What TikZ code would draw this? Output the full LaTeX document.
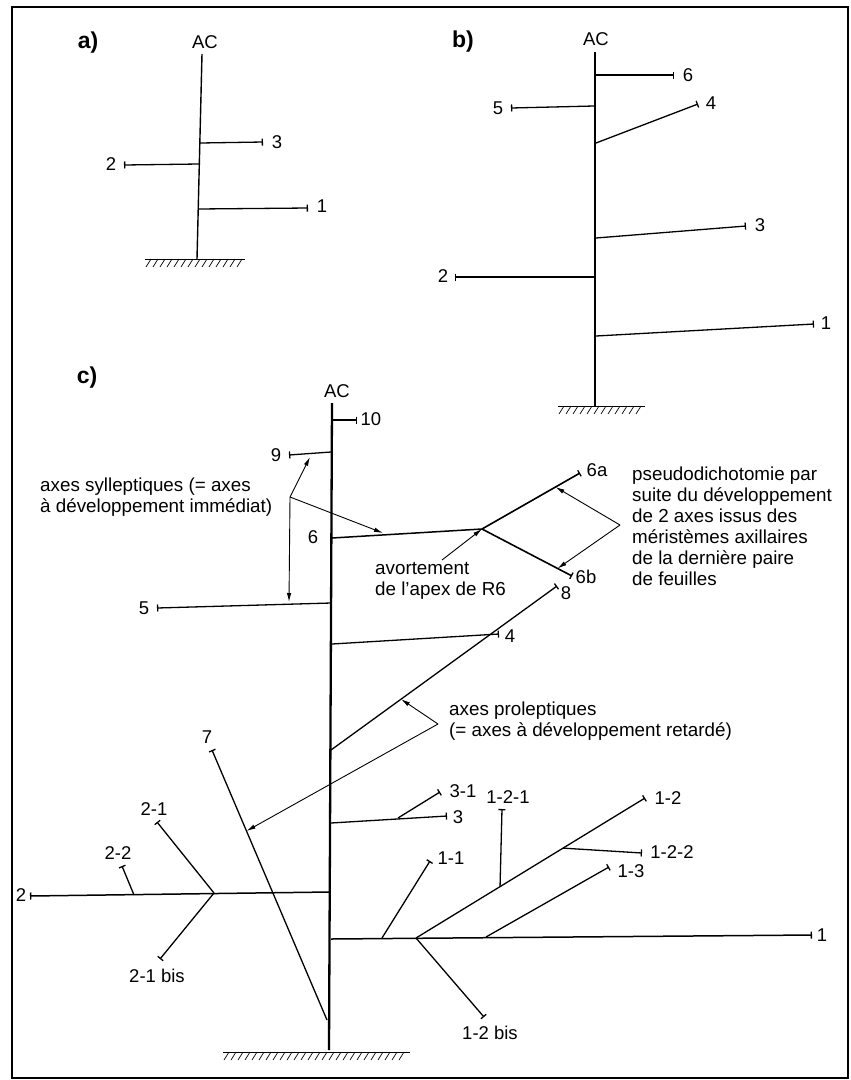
\documentclass[tikz,border=0pt]{standalone}
\usepackage{fontspec}
\setmainfont{Liberation Sans}
\usetikzlibrary{arrows.meta,calc}

% ground line with short slanted hatching: x start, x end, y
\newcommand{\soil}[3]{%
  \draw[line width=0.7pt] (#1,#3) -- (#2,#3);
  \pgfmathtruncatemacro{\nh}{(#2-#1)/7}
  \foreach \hk in {1,...,\nh}
    \draw[line width=0.7pt] (#1+7*\hk-1,#3) -- ++(-5,8);
}

\begin{document}
\begin{tikzpicture}[
  x=1pt, y=-1pt,
  lbl/.style={font=\fontsize{18.5}{22}\selectfont, inner sep=0pt},
  panel/.style={font=\fontsize{23}{27}\selectfont\bfseries, inner sep=0pt},
  note/.style={font=\fontsize{18.8}{21}\selectfont, align=left,
    inner sep=0pt, anchor=north west},
  stem/.style={line width=2pt},
  shoot/.style={line width=1.3pt, -{Bar[width=7pt,line width=1.3pt]}},
  pointer/.style={line width=0.9pt, -{Latex[length=9pt,width=4.5pt]}}
]
% 851 by 1080 canvas with the thin outer frame
\path[use as bounding box] (0,0) rectangle (851,1080);
\draw[line width=1.2pt] (12,7) rectangle (848,1078);

% a) three shoots on a short axis
\node[panel] (pa) at (88,43) {a)};
\node[lbl] (acA) at (205,42) {AC};
\coordinate (aTop) at (202,54);
\coordinate (aFoot) at (197,259);
\draw[line width=1.4pt] (aTop) -- (aFoot);
\coordinate (a1) at (198,209); \coordinate (a1e) at (308,208);
\coordinate (a2) at (199,164); \coordinate (a2e) at (124,165);
\coordinate (a3) at (200,143); \coordinate (a3e) at (263,142);
\foreach \br in {1,2,3} \draw[shoot] (a\br) -- (a\br e);
\node[lbl] (la1) at (322,206) {1};
\node[lbl] (la2) at (111,164) {2};
\node[lbl] (la3) at (277,142) {3};
\soil{145}{245}{259}

% b) six shoots
\node[panel] (pb) at (463,42) {b)};
\node[lbl] (acB) at (596,39) {AC};
\coordinate (bTop) at (595,52);
\coordinate (bFoot) at (595,406);
\draw[stem] (bTop) -- (bFoot);
\coordinate (b1) at (596,336); \coordinate (b1e) at (814,324);
\coordinate (b2) at (595,277); \coordinate (b2e) at (455,277);
\coordinate (b3) at (596,238); \coordinate (b3e) at (746,226);
\coordinate (b4) at (596,143); \coordinate (b4e) at (698,104);
\coordinate (b5) at (594,106); \coordinate (b5e) at (511,108);
\coordinate (b6) at (596,75);  \coordinate (b6e) at (674,75);
\foreach \br in {1,...,6} \draw[shoot] (b\br) -- (b\br e);
\node[lbl] (lb1) at (826,323) {1};
\node[lbl] (lb2) at (443,276) {2};
\node[lbl] (lb3) at (760,225) {3};
\node[lbl] (lb4) at (711,103) {4};
\node[lbl] (lb5) at (498,108) {5};
\node[lbl] (lb6) at (688,75) {6};
\soil{558}{645}{406}

% c) the full system
\node[panel] (pc) at (87,378) {c)};
\node[lbl] (acC) at (337,391) {AC};
\coordinate (cTop) at (332,403);
\coordinate (cFoot) at (329,1050);
\draw[stem, line width=2.3pt] (cTop) -- (cFoot);
\soil{223}{410}{1052}

% sylleptic shoots near the top
\coordinate (c10) at (332,420); \coordinate (c10e) at (357,420);
\coordinate (c9) at (331,452);  \coordinate (c9e) at (289,455);
\coordinate (c5) at (331,603);  \coordinate (c5e) at (157,608);
\coordinate (c4) at (332,644);  \coordinate (c4e) at (499,634);
\foreach \br in {10,9,5,4} \draw[shoot] (c\br) -- (c\br e);
\node[lbl] (lc10) at (371,419) {10};
\node[lbl] (lc9) at (276,455) {9};
\node[lbl] (lc5) at (144,608) {5};
\node[lbl] (lc4) at (510,636) {4};

% shoot 6 and its pseudodichotomy
\coordinate (c6) at (332,538);
\coordinate (j6) at (482,529);
\coordinate (c6a) at (580,473);
\coordinate (c6b) at (572,576);
\draw[line width=1.5pt] (c6) -- (j6);
\draw[shoot, line width=1.6pt] (j6) -- (c6a);
\draw[shoot, line width=1.6pt] (j6) -- (c6b);
\node[lbl] (lc6) at (313,537) {6};
\node[lbl] (lc6a) at (597,470) {6a};
\node[lbl] (lc6b) at (586,577) {6b};

% proleptic shoots
\coordinate (c8) at (331,750);  \coordinate (c8e) at (557,586);
\coordinate (c7) at (327,1020); \coordinate (c7e) at (212,750);
\draw[shoot] (c8) -- (c8e);
\draw[shoot] (c7) -- (c7e);
\node[lbl] (lc8) at (566,593) {8};
\node[lbl] (lc7) at (207,737) {7};

\coordinate (c3) at (331,823);  \coordinate (c3e) at (447,816);
\coordinate (c31) at (398,818); \coordinate (c31e) at (440,792);
\draw[shoot] (c3) -- (c3e);
\draw[shoot] (c31) -- (c31e);
\node[lbl] (lc3) at (458,817) {3};
\node[lbl] (lc31) at (463,791) {3-1};

% shoot 2 and its branches
\coordinate (c2) at (330,892);   \coordinate (c2e) at (30,896);
\coordinate (j21) at (214,893);  \coordinate (c21e) at (157,822);
\coordinate (c21b) at (160,959);
\coordinate (c22) at (134,895);  \coordinate (c22e) at (122,866);
\draw[shoot, line width=1.5pt] (c2) -- (c2e);
\draw[shoot] (j21) -- (c21e);
\draw[shoot] (j21) -- (c21b);
\draw[shoot] (c22) -- (c22e);
\node[lbl] (lc2) at (21,895) {2};
\node[lbl] (lc21) at (154,809) {2-1};
\node[lbl] (lc21b) at (157,976) {2-1 bis};
\node[lbl] (lc22) at (118,853) {2-2};

% shoot 1 and its branches
\coordinate (c1) at (331,939);   \coordinate (c1e) at (812,935);
\coordinate (c11) at (382,938);  \coordinate (c11e) at (430,861);
\coordinate (c12) at (416,938);  \coordinate (c12e) at (645,798);
\coordinate (c12b) at (484,1017);
\coordinate (c121) at ($(c12)!0.367!(c12e)$); \coordinate (c121e) at (502,809);
\coordinate (c122) at ($(c12)!0.642!(c12e)$); \coordinate (c122e) at (642,853);
\coordinate (c13) at (486,937);  \coordinate (c13e) at (609,867);
\draw[shoot, line width=1.5pt] (c1) -- (c1e);
\foreach \br in {11,12,121,122,13} \draw[shoot] (c\br) -- (c\br e);
\draw[shoot] (c12) -- (c12b);
\node[lbl] (lc1) at (822,935) {1};
\node[lbl] (lc11) at (451,858) {1-1};
\node[lbl] (lc12) at (668,798) {1-2};
\node[lbl] (lc121) at (508,797) {1-2-1};
\node[lbl] (lc122) at (672,852) {1-2-2};
\node[lbl] (lc13) at (631,871) {1-3};
\node[lbl] (lc12b) at (490,1033) {1-2 bis};

% notes and their pointers
\node[note] (syl) at (40,478) {axes sylleptiques (= axes\\à développement immédiat)};
\coordinate (sylP) at (290,497);
\draw[pointer] (sylP) -- (310,457);
\draw[pointer] (sylP) -- (383,533);
\draw[pointer] (sylP) -- (289,602);

\node[note] (avort) at (375,562) {avortement\\de l'apex de R6};
\coordinate (avortP) at (442,560);
\draw[pointer] (avortP) -- (j6);

\node[note] (pseudo) at (632,467)
  {pseudodichotomie par\\suite du développement\\de 2 axes issus des\\méristèmes axillaires\\de la dernière paire\\de feuilles};
\coordinate (pseudoP) at (620,525);
\draw[pointer] (pseudoP) -- ($(j6)!0.75!(c6a)$);
\draw[pointer] (pseudoP) -- ($(j6)!0.84!(c6b)$);

\node[note] (prolep) at (449,702) {axes proleptiques\\(= axes à développement retardé)};
\coordinate (prolepP) at (438,724);
\draw[pointer] (prolepP) -- ($(c8)!0.31!(c8e)$);
\draw[pointer] (prolepP) -- ($(c7)!0.7!(c7e)$);
\end{tikzpicture}
\end{document}
